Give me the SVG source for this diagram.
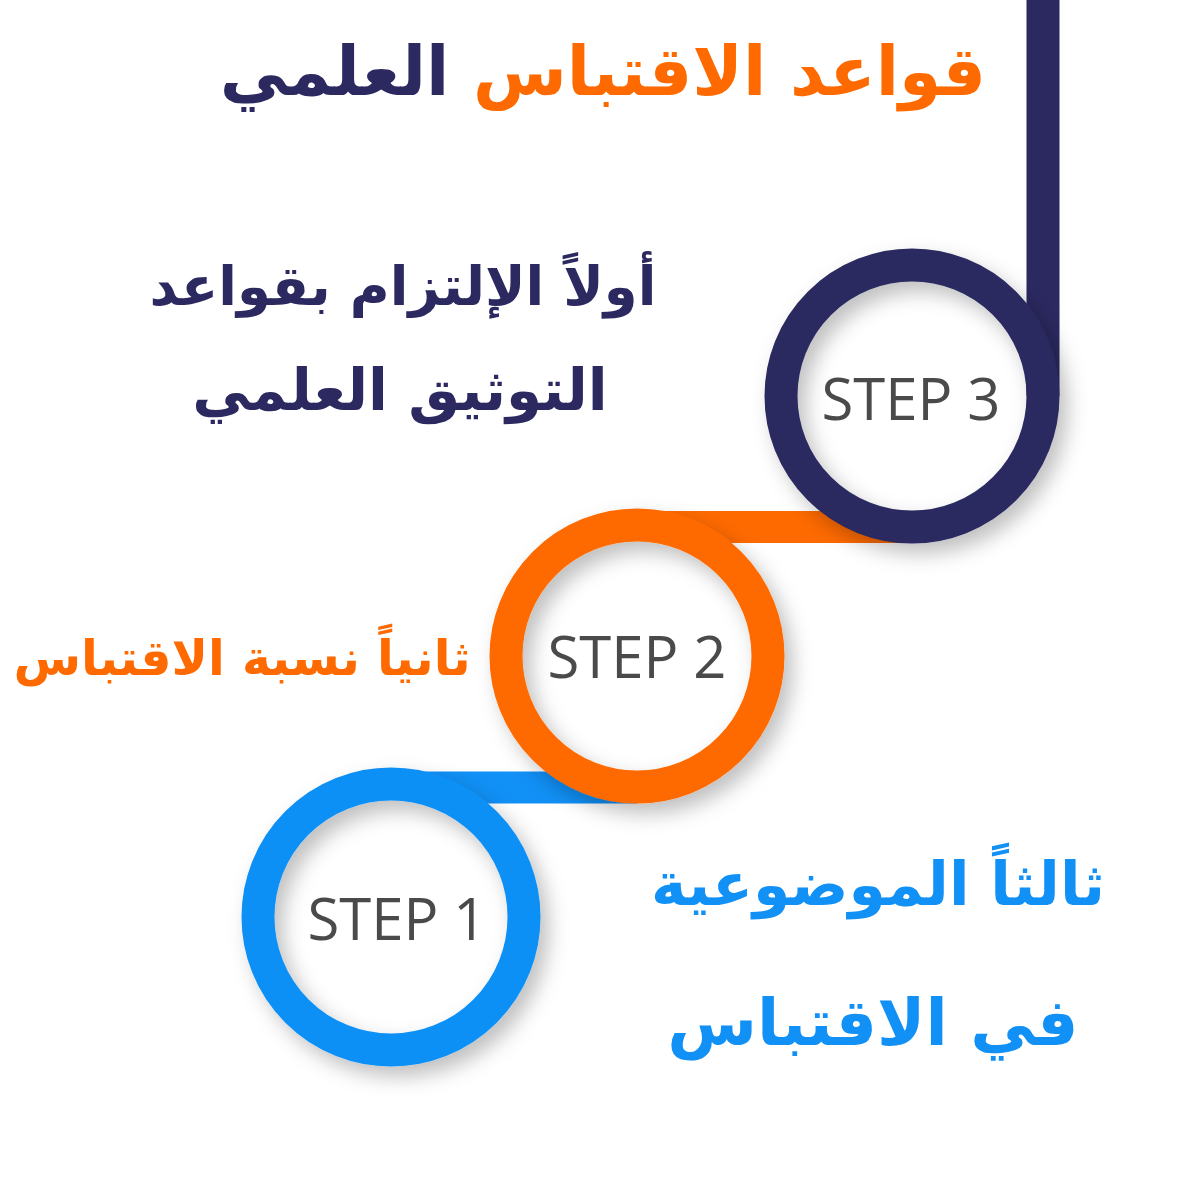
<svg xmlns="http://www.w3.org/2000/svg" width="1200" height="1200" viewBox="0 0 1200 1200">
<defs>
<filter id="sh" x="-30%" y="-30%" width="160%" height="160%">
<feDropShadow dx="8" dy="10" stdDeviation="10" flood-color="#000" flood-opacity="0.25"/>
</filter>
<style>
.ring{fill:none;stroke-width:33;filter:url(#sh)}
.step{font-family:"Open Sans","DejaVu Sans",sans-serif;font-size:58px;fill:#4a4a4a;text-anchor:middle}
.ar{font-family:"DejaVu Sans",sans-serif;font-weight:bold;direction:rtl;text-anchor:middle}
.navy{fill:#2b2960}
.orange{fill:#fe6a00}
.blue{fill:#1190f6}
</style>
</defs>
<rect width="1200" height="1200" fill="#fff"/>
<g id="connectors">
<rect x="420" y="771.5" width="217" height="32" fill="#1190f6"/>
<rect x="660" y="511" width="252" height="32" fill="#fe6a00"/>
<rect x="1026.5" y="0" width="33" height="396" fill="#2b2960"/>
</g>
<g id="step1">
<circle class="ring" cx="391" cy="917" r="133" stroke="#1190f6"/>
<text class="step" x="397" y="940">STEP 1</text>
</g>
<g id="step2">
<circle class="ring" cx="637" cy="656" r="131" stroke="#fe6a00"/>
<text class="step" x="637" y="678">STEP 2</text>
</g>
<g id="step3">
<circle class="ring" cx="912" cy="396" r="131" stroke="#2b2960"/>
<text class="step" x="911" y="420">STEP 3</text>
</g>
<g id="title">
<text class="ar" x="603" y="95" font-size="68"><tspan class="orange">قواعد الاقتباس </tspan><tspan class="navy">العلمي</tspan></text>
</g>
<g id="text3">
<text class="ar navy" x="403" y="305" font-size="54.5">أولاً الإلتزام بقواعد</text>
<text class="ar navy" x="400" y="410" font-size="58">التوثيق العلمي</text>
</g>
<g id="text2">
<text class="ar orange" x="242" y="675" font-size="49">ثانياً نسبة الاقتباس</text>
</g>
<g id="text1">
<text class="ar blue" x="878" y="905" font-size="60">ثالثاً الموضوعية</text>
<text class="ar blue" x="873" y="1045" font-size="65">في الاقتباس</text>
</g>
</svg>
